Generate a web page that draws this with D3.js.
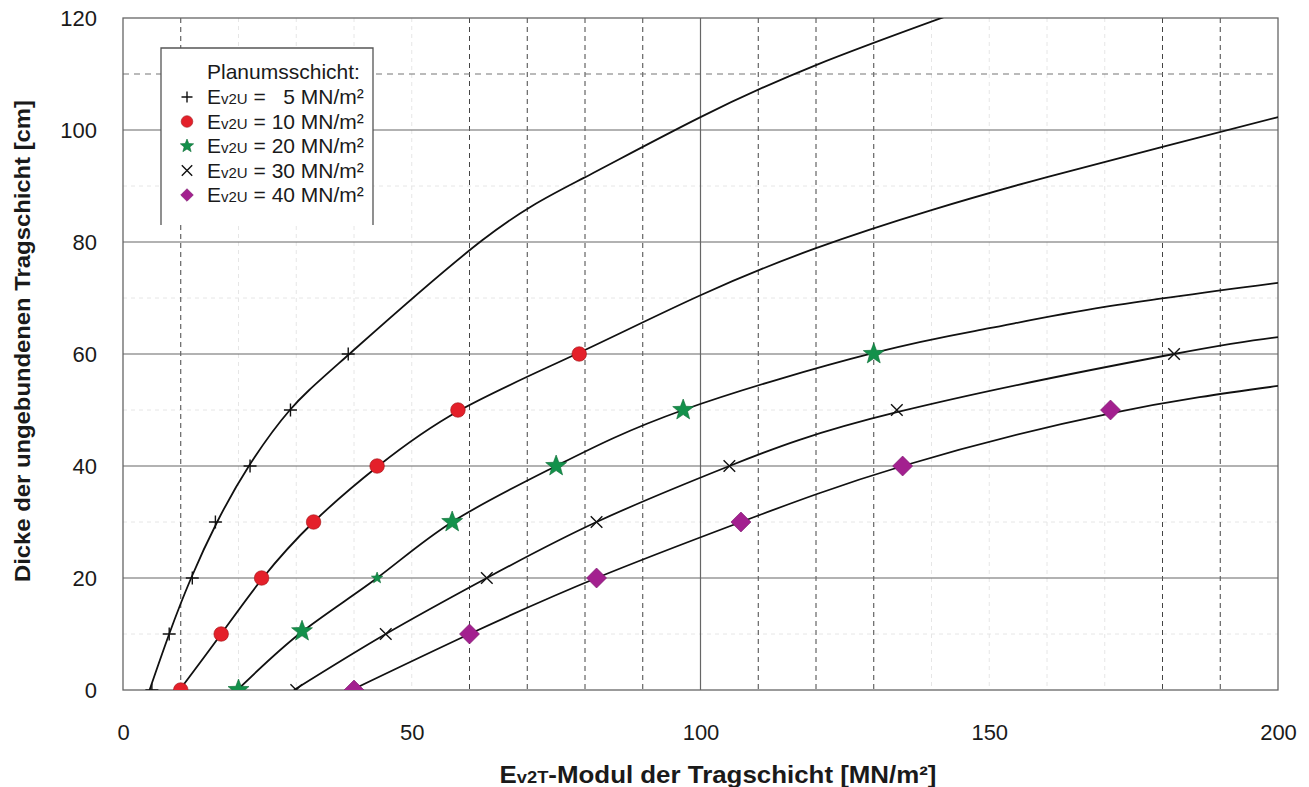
<!doctype html>
<html lang="de">
<head>
  <meta charset="UTF-8">
  <title>Dicke der ungebundenen Tragschicht</title>
  <script src="https://d3js.org/d3.v7.min.js"></script>
  <style>
    body { margin: 0; background: #fff; }
    text { font-family: "Liberation Sans", Arial, sans-serif; fill: #1a1a1a; }
  </style>
</head>
<body>
  <div id="chart"></div>
  <script>
    // tick labels
    var xTicks = [0, 50, 100, 150, 200];
    var yTicks = [0, 20, 40, 60, 80, 100, 120];
    var xGridDashed = [10, 60, 70, 80, 90, 110, 120, 130, 180, 190];
    var xGridFaint = [20, 30, 40, 50, 140, 150, 160, 170];
    var xGridSolid = [100];
    var yGridSolid = [20, 40, 60, 80, 100];
    var yGridDashed = [110];
    var yGridFaint = [10, 30, 50, 70, 90];

    // legend categories (Ev2U of the Planum)
    var categories = ["5", "10", "20", "30", "40"];

    // measured points per series [Ev2T, Dicke]
    var pts5 = [[5, 0], [8, 10], [12, 20], [16, 30], [22, 40], [29, 50], [39, 60]];
    var pts10 = [[10, 0], [17, 10], [24, 20], [33, 30], [44, 40], [58, 50], [79, 60]];
    var pts20 = [[20, 0], [31, 10.5], [44, 20], [57, 30], [75, 40], [97, 50], [130, 60]];
    var pts30 = [[30, 0], [45.5, 10], [63, 20], [82, 30], [105, 40], [134, 50], [182, 60]];
    var pts40 = [[40, 0], [60, 10], [82, 20], [107, 30], [135, 40], [171, 50]];

    // fitted curves
    var fit5 = [[4.6, 0], [8, 10], [11.8, 20], [16.3, 30], [21.8, 40], [28.9, 50], [39.2, 60],
      [62.2, 80.3], [79.7, 91.4], [100, 102.3], [120, 111.6], [142.5, 120.3]];
    var fit10 = [[9.8, 0], [17, 10], [24.2, 20], [33, 30], [44.2, 40], [58.4, 50], [78.5, 60],
      [100, 70.5], [120, 78.9], [140, 85.7], [160, 91.6], [180, 97], [200, 102.3]];
    var fit20 = [[19.8, 0], [31, 10.4], [44, 20], [57, 30], [75, 40], [97, 50],
      [130, 60.2], [150, 64.6], [170, 68.4], [200, 72.7]];
    var fit30 = [[29.6, 0], [45.5, 10], [63, 20], [82, 30], [105, 40],
      [134, 49.6], [182, 60], [200, 63]];
    var fit40 = [[39.6, 0], [60, 10], [82, 20], [107, 30], [135, 40],
      [171, 49.4], [200, 54.3]];

    (function() {
    var width = 1309, height = 787;
    var pLeft = 123, pRight = 1278, pTop = 18, pBottom = 690;

    var x = d3.scaleLinear().domain([0, 200]).range([pLeft, pRight]);
    var y = d3.scaleLinear().domain([0, 120]).range([pBottom, pTop]);

    var svg = d3.select("#chart").append("svg")
      .attr("width", width)
      .attr("height", height);

    svg.append("clipPath").attr("id", "plotclip")
      .append("rect")
      .attr("x", pLeft).attr("y", pTop)
      .attr("width", pRight - pLeft).attr("height", pBottom - pTop);

    var grid = svg.append("g");
    // faint grid first
    grid.selectAll(".vf").data(xGridFaint).enter().append("line")
      .attr("x1", d => x(d)).attr("x2", d => x(d))
      .attr("y1", pTop).attr("y2", pBottom)
      .attr("stroke", "#e6e6e6").attr("stroke-dasharray", "4,4");
    grid.selectAll(".hf").data(yGridFaint).enter().append("line")
      .attr("x1", pLeft).attr("x2", pRight)
      .attr("y1", d => y(d)).attr("y2", d => y(d))
      .attr("stroke", "#e6e6e6").attr("stroke-dasharray", "4,4");
    grid.selectAll(".vd").data(xGridDashed).enter().append("line")
      .attr("x1", d => x(d)).attr("x2", d => x(d))
      .attr("y1", pTop).attr("y2", pBottom)
      .attr("stroke", "#444").attr("stroke-width", 1).attr("stroke-dasharray", "5,4");
    grid.selectAll(".hd").data(yGridDashed).enter().append("line")
      .attr("x1", pLeft).attr("x2", pRight)
      .attr("y1", d => y(d)).attr("y2", d => y(d))
      .attr("stroke", "#777").attr("stroke-width", 1.2).attr("stroke-dasharray", "6,5");
    grid.selectAll(".vs").data(xGridSolid).enter().append("line")
      .attr("x1", d => x(d)).attr("x2", d => x(d))
      .attr("y1", pTop).attr("y2", pBottom)
      .attr("stroke", "#666").attr("stroke-width", 1.2);
    grid.selectAll(".hs").data(yGridSolid).enter().append("line")
      .attr("x1", pLeft).attr("x2", pRight)
      .attr("y1", d => y(d)).attr("y2", d => y(d))
      .attr("stroke", "#666").attr("stroke-width", 1.2);

    // plot frame
    svg.append("rect")
      .attr("x", pLeft).attr("y", pTop)
      .attr("width", pRight - pLeft).attr("height", pBottom - pTop)
      .attr("fill", "none").attr("stroke", "#666").attr("stroke-width", 1.3);

    // axes (labels only)
    var yAxis = d3.axisLeft(y).tickValues(yTicks).tickSize(0).tickPadding(26);
    var gy = svg.append("g").attr("transform", "translate(" + pLeft + ",0)").call(yAxis);
    gy.select(".domain").remove();
    gy.selectAll("text").attr("font-size", 22).attr("font-family", null).attr("fill", "#1a1a1a");

    var xAxis = d3.axisBottom(x).tickValues(xTicks).tickSize(0).tickPadding(34);
    var gx = svg.append("g").attr("transform", "translate(0," + pBottom + ")").call(xAxis);
    gx.select(".domain").remove();
    gx.selectAll("text").attr("font-size", 22).attr("font-family", null).attr("fill", "#1a1a1a");

    // axis titles
    var xt = svg.append("text")
      .attr("x", 718).attr("y", 783)
      .attr("text-anchor", "middle")
      .attr("font-weight", "bold").attr("font-size", 24)
      .attr("textLength", 437).attr("lengthAdjust", "spacingAndGlyphs");
    xt.append("tspan").text("E");
    xt.append("tspan").attr("font-size", 17).text("v2T");
    xt.append("tspan").text("-Modul der Tragschicht [MN/m²]");

    svg.append("text")
      .attr("transform", "translate(30,341) rotate(-90)")
      .attr("text-anchor", "middle")
      .attr("font-family", "'Liberation Sans Narrow', 'Arial Narrow', 'Liberation Sans', sans-serif")
      .attr("font-weight", "bold").attr("font-size", 22)
      .attr("textLength", 482).attr("lengthAdjust", "spacingAndGlyphs")
      .text("Dicke der ungebundenen Tragschicht [cm]");

    // curves
    var line = d3.line()
      .x(d => x(d[0])).y(d => y(d[1]))
      .curve(d3.curveNatural);

    var plot = svg.append("g").attr("clip-path", "url(#plotclip)");
    plot.selectAll(".curve").data([fit5, fit10, fit20, fit30, fit40]).enter()
      .append("path")
      .attr("d", line)
      .attr("fill", "none").attr("stroke", "#111").attr("stroke-width", 1.8);

    // marker shapes
    function starPath(ro, ri) {
      var p = [];
      for (var i = 0; i < 10; i++) {
        var a = -Math.PI / 2 + i * Math.PI / 5;
        var r = i % 2 ? ri : ro;
        p.push([r * Math.cos(a), r * Math.sin(a)]);
      }
      return "M" + p.map(q => q[0].toFixed(2) + "," + q[1].toFixed(2)).join("L") + "Z";
    }
    function plusPath(s) { return "M" + -s + ",0H" + s + "M0," + -s + "V" + s; }
    function timesPath(s) { return "M" + -s + "," + -s + "L" + s + "," + s + "M" + -s + "," + s + "L" + s + "," + -s; }
    function diamondPath(s) { return "M0," + -s + "L" + s + ",0L0," + s + "L" + -s + ",0Z"; }
    function circlePath(r) { return d3.arc()({innerRadius: 0, outerRadius: r, startAngle: 0, endAngle: 2 * Math.PI}); }

    var styles = [
      {d: plusPath(6.5), legend: plusPath(5.5), fill: "none", stroke: "#111", sw: 1.4},
      {d: circlePath(7.3), legend: circlePath(5.8), fill: "#e4202a", stroke: "#a01418", sw: 0.6},
      {d: starPath(11, 4.6), legend: starPath(7, 3), fill: "#13914b", stroke: "#0b6b34", sw: 0.6},
      {d: timesPath(5.8), legend: timesPath(5.2), fill: "none", stroke: "#111", sw: 1.4},
      {d: diamondPath(10), legend: diamondPath(6.3), fill: "#a3208f", stroke: "#761468", sw: 0.6}
    ];

    [pts5, pts10, pts20, pts30, pts40].forEach(function(pts, i) {
      var st = styles[i];
      plot.selectAll(".m" + i).data(pts).enter().append("path")
        .attr("transform", d => "translate(" + x(d[0]) + "," + y(d[1]) + ")")
        .attr("d", (d, j) => (i === 2 && j === 2) ? starPath(6, 2.5) : st.d)
        .attr("fill", st.fill).attr("stroke", st.stroke).attr("stroke-width", st.sw);
    });

    // legend
    var lg = svg.append("g");
    lg.append("rect")
      .attr("x", 161).attr("y", 48).attr("width", 212).attr("height", 177)
      .attr("fill", "#fff");
    lg.append("path")
      .attr("d", "M161,225V48H373V225")
      .attr("fill", "none").attr("stroke", "#555").attr("stroke-width", 1.3);
    lg.append("text").attr("x", 207).attr("y", 79).attr("font-size", 21)
      .text("Planumsschicht:");

    categories.forEach(function(c, i) {
      var cy = 97 + i * 24.5;
      var st = styles[i];
      lg.append("path")
        .attr("transform", "translate(187," + cy + ")")
        .attr("d", st.legend)
        .attr("fill", st.fill).attr("stroke", st.stroke).attr("stroke-width", st.sw);
      var t = lg.append("text").attr("x", 207).attr("y", cy + 7).attr("font-size", 21)
        .style("white-space", "pre");
      t.append("tspan").text("E");
      t.append("tspan").attr("font-size", 15).text("v2U");
      t.append("tspan").text(" = " + (c.length < 2 ? "  " : "") + c + " MN/m²");
    });
    })();
  </script>
</body>
</html>
